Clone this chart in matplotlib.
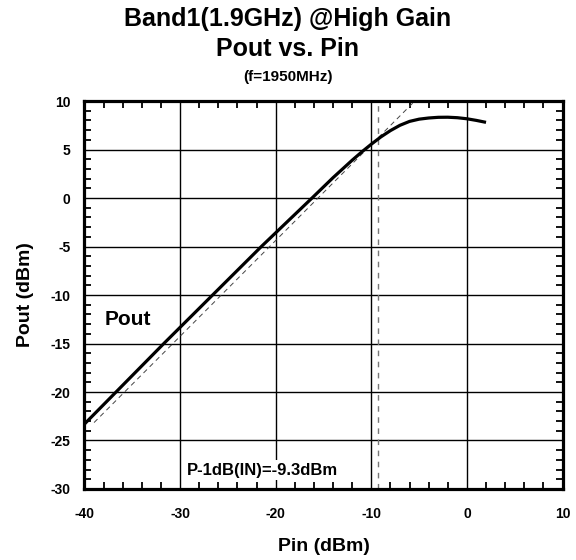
import numpy as np
import matplotlib
matplotlib.use('Agg')
import matplotlib.pyplot as plt
from matplotlib.ticker import MultipleLocator

plt.rcParams['font.family'] = ['Liberation Sans', 'DejaVu Sans']
plt.rcParams['font.weight'] = 'bold'
plt.rcParams['axes.unicode_minus'] = False

pin = [-40, -36.7, -31.7, -26.6, -21.5, -16.2, -14, -13, -12, -11,
       -10, -9, -8, -7, -6, -5, -4, -3, -2, -1, 0, 1, 2]
pout = [-23.3, -20.0, -15.0, -10.0, -5.0, 0.0, 2.1, 3.0, 3.9, 4.75,
        5.55, 6.3, 6.95, 7.5, 7.9, 8.13, 8.25, 8.32, 8.33, 8.28,
        8.17, 8.0, 7.8]

# Linear extrapolation reference line
lin_pin = [-39.0, -5.5]
lin_pout = [-23.15, 9.95]

p1db_in = -9.3

fig = plt.figure(figsize=(5.76, 5.6), dpi=100)
ax = fig.add_axes([0.1467, 0.1268, 0.8299, 0.6928])

ax.plot(lin_pin, lin_pout, color='#444444', lw=0.7, ls=(0, (5, 4)), zorder=3)
ax.plot(pin, pout, color='black', lw=2.3, zorder=4, solid_capstyle='butt',
        solid_joinstyle='round')
ax.axvline(p1db_in, color='#777777', lw=1.0, ls=(0, (4, 4)), zorder=2)

ax.set_xlim(-40, 10)
ax.set_ylim(-30, 10)
ax.xaxis.set_major_locator(MultipleLocator(10))
ax.xaxis.set_minor_locator(MultipleLocator(2))
ax.yaxis.set_major_locator(MultipleLocator(5))
ax.yaxis.set_minor_locator(MultipleLocator(1))
ax.grid(True, which='major', color='black', lw=1.0, zorder=1)
ax.tick_params(which='both', direction='in', top=True, right=True,
               labelsize=10, width=1.3)
ax.tick_params(which='major', length=0)
ax.tick_params(axis='x', which='major', pad=13)
ax.tick_params(axis='y', which='major', pad=10)
ax.tick_params(which='minor', length=5)
for sp in ax.spines.values():
    sp.set_linewidth(2.3)

ax.set_xlabel('Pin (dBm)', fontsize=14, fontweight='bold', labelpad=12)
ax.set_ylabel('Pout (dBm)', fontsize=14, fontweight='bold', labelpad=12)

ax.text(-37.9, -12.5, 'Pout', fontsize=15, fontweight='bold', va='center', ha='left')
ax.text(-29.3, -28.05, 'P-1dB(IN)=-9.3dBm', fontsize=12, fontweight='bold',
        va='center', ha='left', zorder=5,
        bbox=dict(facecolor='white', edgecolor='none', pad=2))

fig.text(0.5, 1 - 19 / 560, 'Band1(1.9GHz) @High Gain', fontsize=18,
         fontweight='bold', ha='center', va='center')
fig.text(0.5, 1 - 49 / 560, 'Pout vs. Pin', fontsize=18,
         fontweight='bold', ha='center', va='center')
fig.text(0.5, 1 - 77 / 560, '(f=1950MHz)', fontsize=11,
         fontweight='bold', ha='center', va='center')

fig.savefig('out.png', dpi=100)
